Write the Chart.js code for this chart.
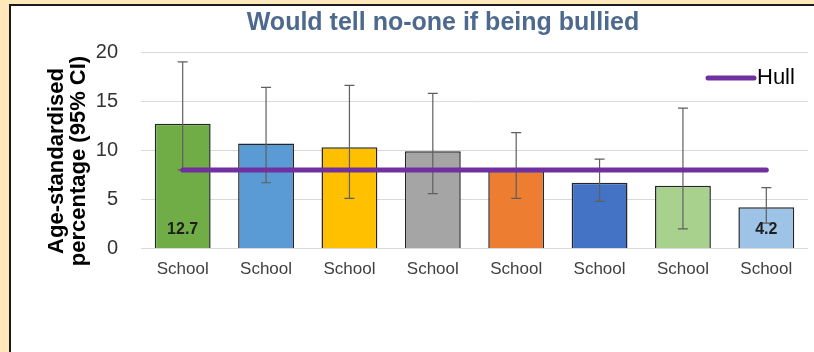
<!DOCTYPE html>
<html>
<head>
<meta charset="utf-8">
<script src="https://cdn.jsdelivr.net/npm/chart.js@4"></script>
<style>
  body { margin: 0; background: #FFE9BA; width: 814px; height: 352px; overflow: hidden; }
  #frame { position: absolute; left: 9px; top: 4px; width: 803px; height: 346px;
           background: #fff; border-left: 2px solid #1c1c1c; border-top: 2px solid #1c1c1c; }
  canvas { display: block; }
</style>
</head>
<body>
<div id="frame"><canvas id="bullyChart" width="803" height="346"></canvas></div>
<script>
// data
const schools = ['School', 'School', 'School', 'School', 'School', 'School', 'School', 'School'];
const rates = [12.7, 10.7, 10.3, 9.9, 7.9, 6.7, 6.4, 4.2];
const ciLow = [8.0, 6.7, 5.1, 5.6, 5.1, 4.8, 2.0, 2.6];
const ciHigh = [19.0, 16.4, 16.6, 15.8, 11.8, 9.1, 14.3, 6.2];
const hull = [8, 8, 8, 8, 8, 8, 8, 8];
const shownLabels = ['12.7', null, null, null, null, null, null, '4.2'];
const yTicks = [0, 5, 10, 15, 20];

const barColours = ['#70AD47', '#5B9BD5', '#FFC000', '#A5A5A5', '#ED7D31', '#4472C4', '#A9D18E', '#9DC3E6'];

// error bars, drawn right after the bars so the Hull line sits on top
const errorBars = {
  id: 'errorBars',
  afterDatasetDraw(chart, args) {
    if (args.index !== 0) return;
    const ctx = chart.ctx;
    const y = chart.scales.y;
    ctx.save();
    ctx.strokeStyle = '#5f5f5f';
    ctx.lineWidth = 1.2;
    args.meta.data.forEach((bar, i) => {
      const top = y.getPixelForValue(ciHigh[i]);
      const bot = y.getPixelForValue(ciLow[i]);
      ctx.beginPath();
      ctx.moveTo(bar.x, top); ctx.lineTo(bar.x, bot);
      ctx.moveTo(bar.x - 5, top); ctx.lineTo(bar.x + 5, top);
      ctx.moveTo(bar.x - 5, bot); ctx.lineTo(bar.x + 5, bot);
      ctx.stroke();
    });
    ctx.restore();
  }
};

// value labels, y-axis title and the little Hull legend
const extras = {
  id: 'extras',
  afterDatasetsDraw(chart) {
    const ctx = chart.ctx;
    const y = chart.scales.y;
    const area = chart.chartArea;
    ctx.save();
    ctx.fillStyle = '#1e1e1e';
    ctx.font = 'bold 16px "Liberation Sans", Arial, sans-serif';
    ctx.textAlign = 'center';
    ctx.textBaseline = 'middle';
    chart.getDatasetMeta(0).data.forEach((bar, i) => {
      if (shownLabels[i]) ctx.fillText(shownLabels[i], bar.x, y.getPixelForValue(0) - 19);
    });

    // y title
    ctx.save();
    ctx.translate(46, 155);
    ctx.rotate(-Math.PI / 2);
    ctx.fillStyle = '#000';
    ctx.font = 'bold 22px "Liberation Sans", Arial, sans-serif';
    ctx.fillText('Age-standardised', 0, 0);
    ctx.fillText('percentage (95% CI)', 0, 22);
    ctx.restore();

    // legend
    const ly = area.top + 26;
    const lx = area.right - 100;
    ctx.strokeStyle = '#7030A0';
    ctx.lineWidth = 5;
    ctx.lineCap = 'round';
    ctx.beginPath();
    ctx.moveTo(lx, ly); ctx.lineTo(lx + 46, ly);
    ctx.stroke();
    ctx.fillStyle = '#000';
    ctx.font = '22px "Liberation Sans", Arial, sans-serif';
    ctx.textAlign = 'left';
    ctx.fillText('Hull', lx + 49, ly);
    ctx.restore();
  }
};

const ctx = document.getElementById('bullyChart').getContext('2d');
const bullyChart = new Chart(ctx, {
  data: {
    labels: schools,
    datasets: [{
      type: 'bar',
      label: 'School',
      data: rates,
      backgroundColor: barColours,
      borderColor: '#262626',
      borderWidth: 1.5,
      barPercentage: 0.67,
      categoryPercentage: 1,
      order: 2
    }, {
      type: 'line',
      label: 'Hull',
      data: hull,
      borderColor: '#7030A0',
      borderWidth: 5,
      pointRadius: 0,
      borderCapStyle: 'round',
      order: 1
    }]
  },
  options: {
    responsive: false,
    animation: false,
    layout: { padding: { left: 67, right: 6, top: 0, bottom: 61 } },
    scales: {
      x: {
        grid: { display: false, drawTicks: false },
        border: { display: false },
        ticks: { padding: 11, color: '#404040', font: { size: 17, family: '"Liberation Sans", Arial, sans-serif' } }
      },
      y: {
        min: 0,
        max: 20,
        afterBuildTicks: (axis) => { axis.ticks = yTicks.map(v => ({ value: v })); },
        afterFit: (axis) => { axis.width = 63; },
        grid: { color: '#d9d9d9', drawTicks: false },
        border: { display: false },
        ticks: { padding: 23, color: '#333', font: { size: 20, family: '"Liberation Sans", Arial, sans-serif' } }
      }
    },
    plugins: {
      legend: { display: false },
      tooltip: { enabled: false },
      title: {
        display: true,
        text: 'Would tell no-one if being bullied',
        color: '#4D6A8E',
        font: { size: 25, weight: 'bold', family: '"Liberation Sans", Arial, sans-serif' },
        padding: { top: 2, bottom: 14 }
      }
    }
  },
  plugins: [errorBars, extras]
});
</script>
</body>
</html>
